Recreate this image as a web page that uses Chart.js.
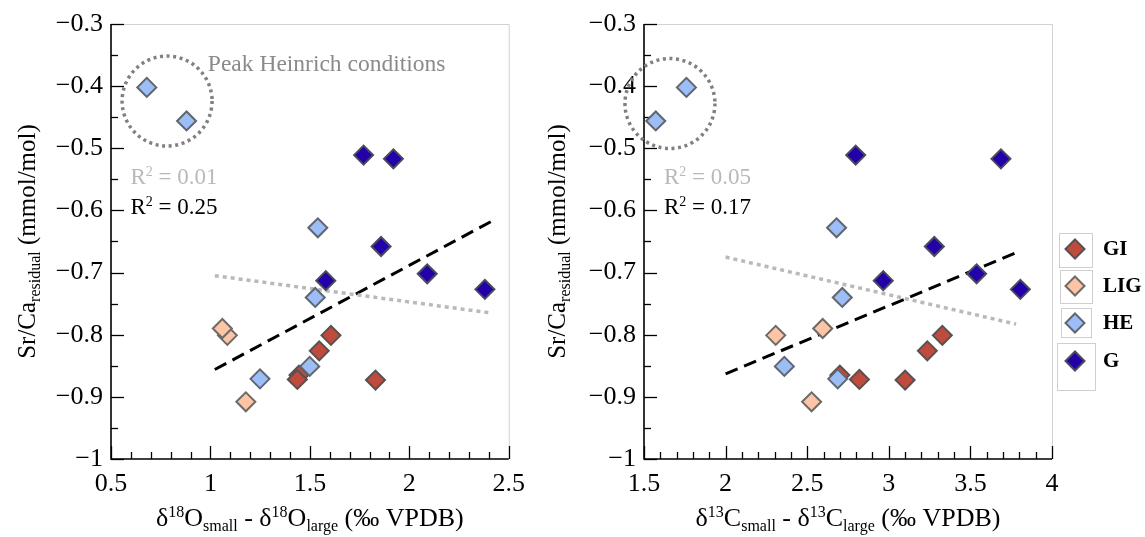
<!DOCTYPE html>
<html>
<head>
<meta charset="utf-8">
<script src="https://cdn.jsdelivr.net/npm/chart.js@4.4.1/dist/chart.umd.min.js"></script>
<style>
  body { margin: 0; background: #fff; }
  #left { position: absolute; left: 0; top: 0; }
  #right { position: absolute; left: 535px; top: 0; }
</style>
</head>
<body>
<canvas id="left" width="535" height="537"></canvas>
<canvas id="right" width="610" height="537"></canvas>
<script>
// tick values
const yTicks = [-1, -0.9, -0.8, -0.7, -0.6, -0.5, -0.4, -0.3];
const xTicksO = [0.5, 1, 1.5, 2, 2.5];
const xTicksC = [1.5, 2, 2.5, 3, 3.5, 4];

// Sr/Ca residual per group (shared by both panels)
const giSrCa = [-0.801, -0.826, -0.865, -0.872, -0.873];
const ligSrCa = [-0.801, -0.790, -0.908];
const heSrCa = [-0.402, -0.456, -0.628, -0.740, -0.851, -0.871];
const gSrCa = [-0.511, -0.517, -0.658, -0.713, -0.702, -0.727];

// d18O small - large
const giO = [1.606, 1.547, 1.445, 1.437, 1.83];
const ligO = [1.085, 1.06, 1.178];
const heO = [0.68, 0.88, 1.54, 1.527, 1.499, 1.249];
const gO = [1.77, 1.92, 1.858, 1.58, 2.09, 2.38];

// d13C small - large
const giC = [3.328, 3.236, 2.70, 2.82, 3.10];
const ligC = [2.307, 2.595, 2.527];
const heC = [1.76, 1.572, 2.68, 2.715, 2.36, 2.687];
const gC = [2.797, 3.687, 3.279, 2.966, 3.538, 3.806];

// regression lines (end points)
const fitAllO = { x: [1.022, 2.41], y: [-0.705, -0.765] };
const fitSubO = { x: [1.022, 2.428], y: [-0.856, -0.615] };
const fitAllC = { x: [2.0, 3.78], y: [-0.675, -0.783] };
const fitSubC = { x: [2.0, 3.77], y: [-0.863, -0.669] };

const groups = ['GI', 'LIG', 'HE', 'G'];
const fills = { GI: '#c04a3c', LIG: '#fdc4a5', HE: '#9dbdf7', G: '#2400a8' };
const strokes = { GI: '#5b5050', LIG: '#6e6a68', HE: '#5f6670', G: '#4a4a60' };

const FONT = '"Liberation Serif", "Times New Roman", serif';

function zip(xs, ys) {
    return xs.map((x, i) => ({ x: x, y: ys[i] }));
}

function drawRich(ctx, parts, x, y, size, align) {
    const small = Math.round(size * 0.62);
    let w = 0;
    parts.forEach((p) => {
        ctx.font = (p[1] ? small : size) + 'px ' + FONT;
        w += ctx.measureText(p[0]).width;
    });
    let cx = align === 'center' ? x - w / 2 : x;
    parts.forEach((p) => {
        ctx.font = (p[1] ? small : size) + 'px ' + FONT;
        const dy = p[1] === 'sup' ? -size * 0.36 : (p[1] === 'sub' ? size * 0.2 : 0);
        ctx.fillText(p[0], cx, y + dy);
        cx += ctx.measureText(p[0]).width;
    });
}

function diamond(ctx, x, y, r) {
    ctx.beginPath();
    ctx.moveTo(x, y - r);
    ctx.lineTo(x + r, y);
    ctx.lineTo(x, y + r);
    ctx.lineTo(x - r, y);
    ctx.closePath();
}

// axes, inward ticks, frame, circle and annotations
const decor = {
    id: 'decor',
    beforeDatasetsDraw(chart, args, opts) {
        const ctx = chart.ctx, a = chart.chartArea;
        const xs = chart.scales.x, ys = chart.scales.y;
        ctx.save();
        ctx.strokeStyle = '#d2d2d2';
        ctx.lineWidth = 1;
        ctx.beginPath();
        ctx.moveTo(a.left, a.top + 0.5);
        ctx.lineTo(a.right + 0.5, a.top + 0.5);
        ctx.lineTo(a.right + 0.5, a.bottom);
        ctx.stroke();

        ctx.strokeStyle = '#000';
        ctx.lineWidth = 1.3;
        const nx = Math.round((xs.max - xs.min) / 0.1);
        for (let i = 0; i <= nx; i++) {
            const px = Math.round(xs.getPixelForValue(xs.min + i * 0.1)) + 0.5;
            const len = i % 5 === 0 ? 13 : 7;
            ctx.beginPath();
            ctx.moveTo(px, a.bottom);
            ctx.lineTo(px, a.bottom - len);
            ctx.stroke();
        }
        const ny = Math.round((ys.max - ys.min) / 0.05);
        for (let i = 0; i <= ny; i++) {
            const py = Math.round(ys.getPixelForValue(ys.min + i * 0.05)) + 0.5;
            const len = i % 2 === 0 ? 13 : 7;
            ctx.beginPath();
            ctx.moveTo(a.left, py);
            ctx.lineTo(a.left + len, py);
            ctx.stroke();
        }
        ctx.lineWidth = 1.6;
        ctx.beginPath();
        ctx.moveTo(a.left, a.top);
        ctx.lineTo(a.left, a.bottom);
        ctx.lineTo(a.right, a.bottom);
        ctx.stroke();

        // dotted circle round the peak Heinrich points
        const c = opts.circle;
        ctx.strokeStyle = '#808080';
        ctx.lineWidth = 3.5;
        ctx.setLineDash([3, 3.6]);
        ctx.beginPath();
        ctx.arc(xs.getPixelForValue(c.x), ys.getPixelForValue(c.y), c.r, 0, Math.PI * 2);
        ctx.stroke();
        ctx.setLineDash([]);

        ctx.textAlign = 'left';
        ctx.textBaseline = 'alphabetic';
        opts.notes.forEach((n) => {
            ctx.fillStyle = n.color;
            drawRich(ctx, n.parts, xs.getPixelForValue(n.x), ys.getPixelForValue(n.y), n.size, 'left');
        });
        ctx.restore();
    },
    afterDraw(chart, args, opts) {
        const ctx = chart.ctx, a = chart.chartArea;
        ctx.save();
        ctx.fillStyle = '#000';
        ctx.textBaseline = 'alphabetic';
        drawRich(ctx, opts.xTitle, (a.left + a.right) / 2, 526, 26, 'center');
        ctx.translate(opts.yTitleX, (a.top + a.bottom) / 2);
        ctx.rotate(-Math.PI / 2);
        drawRich(ctx, [['Sr/Ca', ''], ['residual', 'sub'], [' (mmol/mol)', '']], 0, 0, 25, 'center');
        ctx.restore();

        if (opts.legend) {
            const L = opts.legend;
            ctx.save();
            L.items.forEach((it) => {
                ctx.strokeStyle = '#cfcfcf';
                ctx.lineWidth = 1;
                ctx.strokeRect(it.box[0] + 0.5, it.box[1] + 0.5, it.box[2], it.box[3]);
                diamond(ctx, L.markX, it.y, 9.5);
                ctx.fillStyle = fills[it.name];
                ctx.fill();
                ctx.strokeStyle = strokes[it.name];
                ctx.lineWidth = 2;
                ctx.stroke();
                ctx.fillStyle = '#000';
                ctx.font = 'bold 21px ' + FONT;
                ctx.textBaseline = 'middle';
                ctx.fillText(it.name, L.textX, it.y + 1);
            });
            ctx.restore();
        }
    }
};

function lineSet(fit, color, dash, width) {
    return {
        type: 'line',
        data: zip(fit.x, fit.y),
        borderColor: color,
        borderDash: dash,
        borderWidth: width,
        pointRadius: 0,
        fill: false,
        order: 10
    };
}

function pointSet(name, xs, ys, order) {
    return {
        label: name,
        data: zip(xs, ys),
        backgroundColor: fills[name],
        borderColor: strokes[name],
        borderWidth: 2,
        pointStyle: 'rectRot',
        pointRadius: 9.5,
        clip: false,
        order: order
    };
}

function buildChart(id, cfg) {
    return new Chart(document.getElementById(id), {
        type: 'scatter',
        data: {
            datasets: [
                lineSet(cfg.fitAll, '#b9b9b9', [4, 4], 3.5),
                lineSet(cfg.fitSub, '#000', [13, 7], 3),
                pointSet('GI', cfg.gi, giSrCa, 4),
                pointSet('LIG', cfg.lig, ligSrCa, 3),
                pointSet('HE', cfg.he, heSrCa, 2),
                pointSet('G', cfg.g, gSrCa, 1)
            ]
        },
        options: {
            responsive: false,
            animation: false,
            devicePixelRatio: 1,
            events: [],
            layout: { padding: { left: 0, right: cfg.padRight, top: 24, bottom: 0 } },
            plugins: {
                legend: { display: false },
                tooltip: { enabled: false },
                decor: cfg.decor
            },
            scales: {
                x: {
                    type: 'linear',
                    min: cfg.xTicks[0],
                    max: cfg.xTicks[cfg.xTicks.length - 1],
                    afterBuildTicks: (s) => { s.ticks = cfg.xTicks.map((v) => ({ value: v })); },
                    afterFit: (s) => { s.height = 78; },
                    grid: { display: false, drawTicks: false },
                    border: { display: false },
                    ticks: {
                        color: '#000',
                        padding: 10,
                        maxRotation: 0,
                        autoSkip: false,
                        font: { family: FONT, size: 26 },
                        callback: (v) => String(v)
                    }
                },
                y: {
                    type: 'linear',
                    min: -1,
                    max: -0.3,
                    afterBuildTicks: (s) => { s.ticks = yTicks.map((v) => ({ value: v })); },
                    afterFit: (s) => { s.width = cfg.yWidth; },
                    grid: { display: false, drawTicks: false },
                    border: { display: false },
                    ticks: {
                        color: '#000',
                        padding: 8,
                        autoSkip: false,
                        font: { family: FONT, size: 26 },
                        callback: (v) => '\u2212' + String(Math.abs(v))
                    }
                }
            }
        },
        plugins: [decor]
    });
}

buildChart('left', {
    gi: giO, lig: ligO, he: heO, g: gO,
    fitAll: fitAllO, fitSub: fitSubO,
    xTicks: xTicksO, yWidth: 111, padRight: 17,
    decor: {
        circle: { x: 0.782, y: -0.424, r: 45 },
        notes: [
            { parts: [['Peak Heinrich conditions', '']], x: 0.987, y: -0.3756, size: 23.5, color: '#8a8a8a' },
            { parts: [['R', ''], ['2', 'sup'], [' = 0.01', '']], x: 0.598, y: -0.5575, size: 23, color: '#b9b9b9' },
            { parts: [['R', ''], ['2', 'sup'], [' = 0.25', '']], x: 0.598, y: -0.6058, size: 23, color: '#000' }
        ],
        xTitle: [['\u03b4', ''], ['18', 'sup'], ['O', ''], ['small', 'sub'], [' - \u03b4', ''], ['18', 'sup'], ['O', ''], ['large', 'sub'], [' (\u2030 VPDB)', '']],
        yTitleX: 35
    }
});

buildChart('right', {
    gi: giC, lig: ligC, he: heC, g: gC,
    fitAll: fitAllC, fitSub: fitSubC,
    xTicks: xTicksC, yWidth: 109, padRight: 93,
    decor: {
        circle: { x: 1.659, y: -0.428, r: 45 },
        notes: [
            { parts: [['R', ''], ['2', 'sup'], [' = 0.05', '']], x: 1.6225, y: -0.5575, size: 23, color: '#b9b9b9' },
            { parts: [['R', ''], ['2', 'sup'], [' = 0.17', '']], x: 1.6225, y: -0.6058, size: 23, color: '#000' }
        ],
        xTitle: [['\u03b4', ''], ['13', 'sup'], ['C', ''], ['small', 'sub'], [' - \u03b4', ''], ['13', 'sup'], ['C', ''], ['large', 'sub'], [' (\u2030 VPDB)', '']],
        yTitleX: 30,
        legend: {
            markX: 540,
            textX: 568,
            items: [
                { name: 'GI', y: 249, box: [524, 233, 33, 34] },
                { name: 'LIG', y: 286, box: [525, 270, 32, 33] },
                { name: 'HE', y: 323, box: [526, 308, 30, 29] },
                { name: 'G', y: 361, box: [522, 343, 38, 47] }
            ]
        }
    }
});
</script>
</body>
</html>
